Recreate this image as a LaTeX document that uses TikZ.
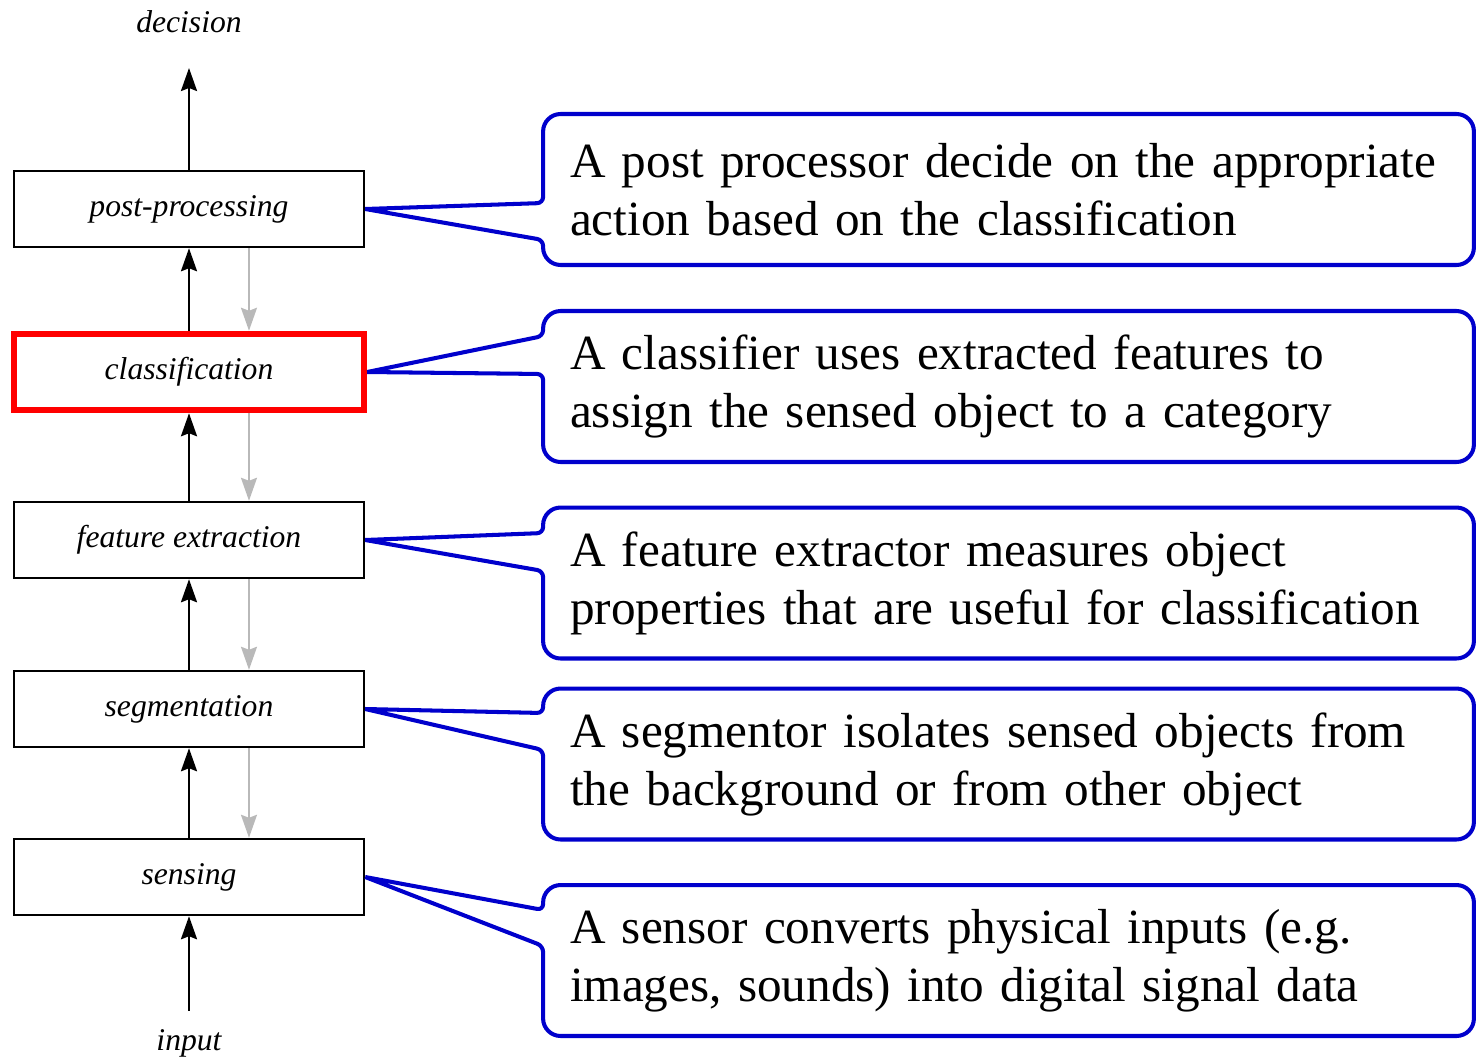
\documentclass[tikz,border=0pt]{standalone}
\usepackage{fontspec}
\setmainfont{Liberation Serif}
\usetikzlibrary{arrows.meta}
\definecolor{callblue}{RGB}{0,0,204}
\definecolor{backgray}{RGB}{185,185,185}
\begin{document}
\begin{tikzpicture}[x=0.02cm, y=-0.02cm,
	>={Stealth[length=0.46cm, width=0.32cm, inset=0.06cm]},
	stage/.style={draw, rectangle, line width=1.4pt, minimum height=1.52cm,
		minimum width=7cm, font=\fontsize{18}{21}\selectfont\itshape},
	ends/.style={font=\fontsize{18}{21}\selectfont\itshape, inner sep=0pt},
	fwd/.style={->, line width=1.4pt},
	back/.style={->, draw=backgray, line width=1.1pt},
	note/.style={minimum height=3.02cm, text width=17.54cm, inner xsep=0.54cm,
		inner ysep=0pt, outer sep=0pt, align=left,
		font=\fontsize{28}{33}\selectfont},
	callout/.style={draw=callblue, line width=2.3pt}]
	\useasboundingbox (0,0) rectangle (1476,1058);
	% processing chain
	\node[stage] (pp) at (189,209) {post-processing};
	\node[stage, draw=red, line width=3.7pt] (cl) at (189,372) {classification};
	\node[stage] (fe) at (189,540) {feature extraction};
	\node[stage] (sg) at (189,709) {segmentation};
	\node[stage] (sn) at (189,877) {sensing};
	\node[ends] (dec) at (189,22) {decision};
	\node[ends] (in) at (189,1043) {input};
	\draw[fwd] (pp.north) -- ([yshift=-0.92cm]dec.center);
	\draw[fwd] (cl) -- (pp);
	\draw[fwd] (fe) -- (cl);
	\draw[fwd] (sg) -- (fe);
	\draw[fwd] (sn) -- (sg);
	\draw[fwd] ([yshift=0.36cm]in.north) -- (sn.south);
	\draw[back] ([xshift=1.2cm]pp.south) -- ([xshift=1.2cm]cl.north);
	\draw[back] ([xshift=1.2cm]cl.south) -- ([xshift=1.2cm]fe.north);
	\draw[back] ([xshift=1.2cm]fe.south) -- ([xshift=1.2cm]sg.north);
	\draw[back] ([xshift=1.2cm]sg.south) -- ([xshift=1.2cm]sn.north);
	% notes
	\node[note] (npp) at (1008.5,189.5)
	{A post processor decide on the appropriate\\action based on the classification};
	\node[note] (ncl) at (1008.5,386.5)
	{A classifier uses extracted features to\\assign the sensed object to a category};
	\node[note] (nfe) at (1008.5,583)
	{A feature extractor measures object\\properties that are useful for classification};
	\node[note] (nsg) at (1008.5,764)
	{A segmentor isolates sensed objects from\\the background or from other object};
	\node[note] (nsn) at (1008.5,960.5)
	{A sensor converts physical inputs (e.g.\\images, sounds) into digital signal data};
	\draw[callout] (pp.east) [rounded corners=0.12cm] -- ([yshift=-0.27cm]npp.west)
	[rounded corners=0.35cm] |- (npp.north east) |- (npp.south west)
	[rounded corners=0.12cm] -- ([yshift=-1.01cm]npp.west) [sharp corners] -- (pp.east);
	\draw[callout] (cl.east) [rounded corners=0.12cm] -- ([yshift=1.01cm]ncl.west)
	[rounded corners=0.35cm] |- (ncl.north east) |- (ncl.south west)
	[rounded corners=0.12cm] -- ([yshift=0.25cm]ncl.west) [sharp corners] -- (cl.east);
	\draw[callout] (fe.east) [rounded corners=0.12cm] -- ([yshift=1.0cm]nfe.west)
	[rounded corners=0.35cm] |- (nfe.north east) |- (nfe.south west)
	[rounded corners=0.12cm] -- ([yshift=0.24cm]nfe.west) [sharp corners] -- (fe.east);
	\draw[callout] (sg.east) [rounded corners=0.12cm] -- ([yshift=1.02cm]nsg.west)
	[rounded corners=0.35cm] |- (nsg.north east) |- (nsg.south west)
	[rounded corners=0.12cm] -- ([yshift=0.28cm]nsg.west) [sharp corners] -- (sg.east);
	\draw[callout] (sn.east) [rounded corners=0.12cm] -- ([yshift=1.01cm]nsn.west)
	[rounded corners=0.35cm] |- (nsn.north east) |- (nsn.south west)
	[rounded corners=0.12cm] -- ([yshift=0.29cm]nsn.west) [sharp corners] -- (sn.east);
\end{tikzpicture}
\end{document}
